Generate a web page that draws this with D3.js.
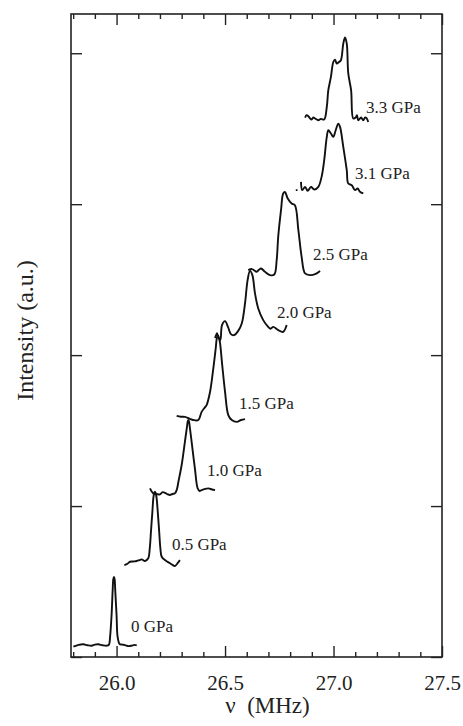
<!DOCTYPE html>
<html>
<head>
<meta charset="utf-8">
<script src="https://cdn.jsdelivr.net/npm/d3@7"></script>
<style>
  body { margin: 0; background: #fff; }
  svg { display: block; font-family: "Liberation Serif", "Times New Roman", serif; }
</style>
</head>
<body>
<svg id="chart" width="463" height="726"></svg>
<script>
// spectra: [frequency (MHz), intensity (a.u., with vertical offset)]
var spec00 = [[25.801,0.068],[25.825,0.080],[25.847,0.084],[25.866,0.078],[25.885,0.075],[25.900,0.082],[25.916,0.084],[25.935,0.078],[25.955,0.075],[25.965,0.082],[25.970,0.132],[25.977,0.278],[25.982,0.440],[25.985,0.515],[25.988,0.530],[25.991,0.515],[25.994,0.440],[26.000,0.278],[26.005,0.132],[26.014,0.086],[26.025,0.082],[26.039,0.079],[26.055,0.072],[26.070,0.075],[26.082,0.080],[26.093,0.077]];
var spec05 = [[26.036,0.609],[26.050,0.618],[26.062,0.631],[26.078,0.633],[26.093,0.636],[26.105,0.642],[26.116,0.647],[26.131,0.636],[26.146,0.654],[26.153,0.720],[26.159,0.841],[26.165,0.960],[26.170,1.060],[26.174,1.088],[26.177,1.095],[26.180,1.088],[26.184,1.060],[26.190,0.960],[26.196,0.841],[26.202,0.720],[26.208,0.664],[26.223,0.642],[26.235,0.630],[26.246,0.621],[26.258,0.610],[26.269,0.603],[26.283,0.625],[26.292,0.642]];
var spec10 = [[26.154,1.117],[26.169,1.084],[26.185,1.080],[26.200,1.077],[26.212,1.092],[26.223,1.088],[26.235,1.078],[26.246,1.073],[26.258,1.080],[26.269,1.084],[26.278,1.110],[26.285,1.161],[26.300,1.272],[26.315,1.426],[26.325,1.530],[26.328,1.560],[26.331,1.570],[26.334,1.560],[26.337,1.530],[26.346,1.426],[26.361,1.250],[26.374,1.117],[26.383,1.100],[26.392,1.106],[26.405,1.112],[26.423,1.117],[26.440,1.110],[26.454,1.106]];
var spec15 = [[26.277,1.598],[26.296,1.592],[26.315,1.591],[26.335,1.580],[26.354,1.570],[26.377,1.570],[26.392,1.624],[26.405,1.650],[26.415,1.669],[26.431,1.757],[26.446,1.912],[26.457,2.044],[26.462,2.112],[26.467,2.132],[26.472,2.115],[26.477,2.080],[26.487,1.934],[26.500,1.757],[26.515,1.603],[26.531,1.570],[26.554,1.558],[26.574,1.570],[26.592,1.576]];
var spec20 = [[26.454,2.113],[26.463,2.146],[26.468,2.119],[26.478,2.100],[26.486,2.199],[26.500,2.225],[26.514,2.185],[26.527,2.139],[26.541,2.132],[26.560,2.159],[26.577,2.210],[26.592,2.342],[26.604,2.497],[26.615,2.558],[26.626,2.530],[26.638,2.409],[26.653,2.309],[26.676,2.232],[26.699,2.187],[26.710,2.175],[26.722,2.187],[26.745,2.166],[26.768,2.154],[26.784,2.199]];
var spec25 = [[26.607,2.563],[26.624,2.570],[26.646,2.552],[26.656,2.565],[26.666,2.574],[26.684,2.552],[26.707,2.530],[26.727,2.534],[26.738,2.629],[26.745,2.783],[26.758,2.960],[26.768,3.071],[26.776,3.081],[26.789,3.038],[26.807,3.005],[26.822,2.993],[26.838,2.828],[26.853,2.651],[26.869,2.541],[26.892,2.530],[26.915,2.536],[26.938,2.558]];
var spec31 = [[26.826,3.093],[26.834,3.093],null,[26.850,3.148],[26.856,3.093],[26.869,3.115],[26.881,3.088],[26.896,3.115],[26.911,3.097],[26.930,3.115],[26.945,3.181],[26.957,3.291],[26.969,3.446],[26.976,3.490],[26.988,3.468],[26.999,3.446],[27.010,3.490],[27.022,3.534],[27.030,3.512],[27.045,3.380],[27.061,3.225],[27.068,3.137],[27.084,3.126],[27.099,3.093],[27.111,3.104],[27.122,3.082],[27.137,3.071]];
var spec33 = [[26.869,3.574],[26.876,3.590],[26.884,3.583],[26.891,3.570],[26.899,3.561],[26.907,3.575],[26.915,3.568],[26.930,3.556],[26.942,3.565],[26.957,3.561],[26.969,3.644],[26.976,3.755],[26.988,3.843],[26.999,3.942],[27.007,3.958],[27.015,3.932],[27.025,3.942],[27.034,3.954],[27.045,4.064],[27.053,4.104],[27.061,4.064],[27.068,3.866],[27.081,3.755],[27.091,3.568],[27.102,3.574],[27.108,3.590],[27.114,3.556],[27.127,3.574],[27.137,3.556],[27.146,3.575],[27.153,3.568],[27.160,3.545]];

var spectra = [spec00, spec05, spec10, spec15, spec20, spec25, spec31, spec33];
var pressures = ["0 GPa", "0.5 GPa", "1.0 GPa", "1.5 GPa", "2.0 GPa", "2.5 GPa", "3.1 GPa", "3.3 GPa"];
// where each pressure label sits (frequency, intensity)
var labelFreq = [26.067, 26.255, 26.417, 26.564, 26.739, 26.905, 27.099, 27.150];
var labelInt  = [0.166, 0.709, 1.199, 1.642, 2.245, 2.629, 3.166, 3.603];

var majorTicks = [26.0, 26.5, 27.0, 27.5];
var minorTicks = [25.8, 25.9, 26.1, 26.2, 26.3, 26.4, 26.6, 26.7, 26.8, 26.9, 27.1, 27.2, 27.3, 27.4];
var yTicks = [0, 1, 2, 3, 4];

const margin = {top: 14, right: 21, bottom: 69, left: 71};
const width = 463, height = 726;

const x = d3.scaleLinear().domain([25.79, 27.5]).range([margin.left, width - margin.right]);
const y = d3.scaleLinear().domain([0, 4.26]).range([height - margin.bottom, margin.top]);

const svg = d3.select("#chart");

// axes (ticks point inward on all four sides)
function styleAxis(g) {
    g.select(".domain").remove();
    g.selectAll("line").attr("stroke", "#222").attr("stroke-width", 1.4);
}

svg.append("g")
    .attr("transform", `translate(0,${y(0)})`)
    .call(d3.axisBottom(x).tickValues(minorTicks).tickSize(-5).tickFormat(""))
    .call(styleAxis);
svg.append("g")
    .attr("transform", `translate(0,${y(0)})`)
    .call(d3.axisBottom(x).tickValues(majorTicks).tickSize(-11).tickPadding(18).tickFormat(d3.format(".1f")))
    .call(styleAxis)
    .call(g => g.selectAll("text").attr("font-size", 21).attr("fill", "#222")
        .attr("font-family", "Liberation Serif, serif"));

svg.append("g")
    .attr("transform", `translate(0,${y(4.26)})`)
    .call(d3.axisTop(x).tickValues(minorTicks).tickSize(-5).tickFormat(""))
    .call(styleAxis);
svg.append("g")
    .attr("transform", `translate(0,${y(4.26)})`)
    .call(d3.axisTop(x).tickValues(majorTicks).tickSize(-11).tickFormat(""))
    .call(styleAxis);

svg.append("g")
    .attr("transform", `translate(${x(25.79)},0)`)
    .call(d3.axisLeft(y).tickValues(yTicks).tickSize(-11).tickFormat(""))
    .call(styleAxis);
svg.append("g")
    .attr("transform", `translate(${x(27.5)},0)`)
    .call(d3.axisRight(y).tickValues(yTicks).tickSize(-11).tickFormat(""))
    .call(styleAxis);

// frame
svg.append("rect")
    .attr("x", x(25.79)).attr("y", y(4.26))
    .attr("width", x(27.5) - x(25.79)).attr("height", y(0) - y(4.26))
    .attr("fill", "none").attr("stroke", "#222").attr("stroke-width", 1.6);

// spectra
const line = d3.line()
    .defined(d => d != null)
    .x(d => x(d[0]))
    .y(d => y(d[1]))
    .curve(d3.curveCatmullRom.alpha(0.5));

svg.append("g").selectAll("path")
    .data(spectra)
    .join("path")
    .attr("d", line)
    .attr("fill", "none")
    .attr("stroke", "#111")
    .attr("stroke-width", 1.9)
    .attr("stroke-linejoin", "round");

// pressure labels
svg.append("g").selectAll("text")
    .data(pressures)
    .join("text")
    .attr("x", (d, i) => x(labelFreq[i]))
    .attr("y", (d, i) => y(labelInt[i]))
    .attr("font-size", 17)
    .attr("fill", "#222")
    .text(d => d);

// axis titles
svg.append("text")
    .attr("x", (x(25.79) + x(27.5)) / 2 + 11)
    .attr("y", 713)
    .attr("text-anchor", "middle")
    .attr("font-size", 23)
    .attr("fill", "#222")
    .text("ν  (MHz)")
    .attr("xml:space", "preserve")
    .style("white-space", "pre");

svg.append("text")
    .attr("transform", `translate(33,${(y(0) + y(4.26)) / 2 - 5}) rotate(-90)`)
    .attr("text-anchor", "middle")
    .attr("font-size", 24)
    .attr("fill", "#222")
    .text("Intensity (a.u.)");
</script>
</body>
</html>
